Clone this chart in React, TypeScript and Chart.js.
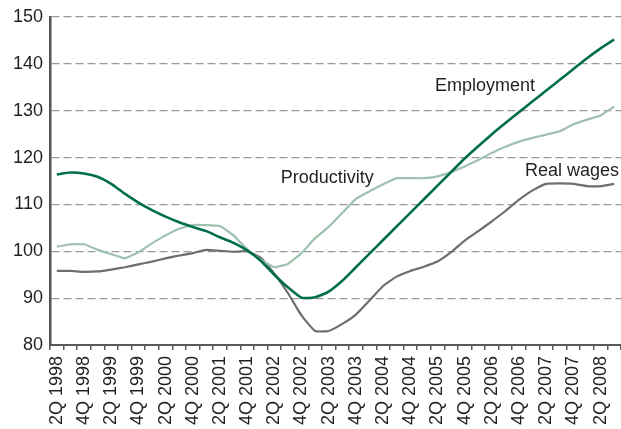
import React, { useEffect, useRef } from "react";
import { Chart, registerables } from "chart.js";

Chart.register(...registerables);

const quarters: string[] = [];
for (let y = 1998; y <= 2008; y++) {
  for (let q = 1; q <= 4; q++) {
    if (y === 1998 && q === 1) continue;
    if (y === 2008 && q === 4) continue;
    quarters.push(`${q}Q ${y}`);
  }
}

const employment = [
  116.4, 116.8, 116.6, 115.9, 114.4, 112.3, 110.4, 108.8, 107.4, 106.2,
  105.2, 104.3, 103.0, 101.8, 100.2, 98.0, 95.0, 92.3, 90.1, 90.2,
  91.4, 93.7, 96.6, 99.5, 102.4, 105.3, 108.2, 111.1, 114.0, 116.9,
  119.8, 122.4, 125.0, 127.4, 129.7, 132.0, 134.3, 136.6, 138.9, 141.2,
  143.3, 145.2,
];

const productivity = [
  101.0, 101.5, 101.5, 100.3, 99.4, 98.5, 99.8, 101.7, 103.4, 104.8,
  105.6, 105.6, 105.4, 103.4, 100.4, 98.2, 96.6, 97.3, 99.6, 102.8,
  105.2, 108.2, 111.2, 112.8, 114.3, 115.6, 115.6, 115.6, 116.0, 116.9,
  118.1, 119.5, 121.0, 122.3, 123.4, 124.2, 124.9, 125.6, 127.1, 128.1,
  129.0, 130.9,
];

const realWages = [
  95.8, 95.8, 95.6, 95.7, 96.1, 96.6, 97.2, 97.8, 98.5, 99.1,
  99.6, 100.3, 100.1, 99.9, 100.0, 98.6, 95.2, 91.1, 86.3, 83.0,
  83.0, 84.5, 86.5, 89.5, 92.6, 94.6, 95.8, 96.7, 97.8, 99.8,
  102.3, 104.3, 106.4, 108.6, 111.0, 113.0, 114.4, 114.5, 114.4, 113.9,
  113.9, 114.4,
];

const yTicks = [80, 90, 100, 110, 120, 130, 140, 150];

const annotationTexts = ["Employment", "Productivity", "Real wages"];
const annotationIndex = [31.5, 19.9, 37.9];
const annotationValue = [135.3, 115.6, 117.1];

const FONT = '"Liberation Sans", Arial, Helvetica, sans-serif';
const TEXT = "#231f20";

const annotationPlugin = {
  id: "seriesLabels",
  afterDatasetsDraw(chart: any) {
    const { ctx, scales } = chart;
    const xs = scales.x;
    const ys = scales.y;
    const x0 = xs.getPixelForValue(0);
    const x1 = xs.getPixelForValue(1);
    ctx.save();
    ctx.font = `18px ${FONT}`;
    ctx.fillStyle = TEXT;
    ctx.textAlign = "center";
    ctx.textBaseline = "middle";
    annotationTexts.forEach((t, i) => {
      const px = x0 + (x1 - x0) * annotationIndex[i];
      const py = ys.getPixelForValue(annotationValue[i]);
      ctx.fillText(t, px, py);
    });
    ctx.restore();
  },
};

export default function App() {
  const ref = useRef<HTMLCanvasElement | null>(null);

  useEffect(() => {
    document.body.style.margin = "0";
    const canvas = ref.current;
    if (!canvas) return;
    const chart = new Chart(canvas, {
      type: "line",
      data: {
        labels: quarters,
        datasets: [
          {
            label: "Employment",
            data: employment,
            borderColor: "#006e4e",
            borderWidth: 2.6,
            pointRadius: 0,
            tension: 0.2,
          },
          {
            label: "Productivity",
            data: productivity,
            borderColor: "#a0c1ad",
            borderWidth: 2.2,
            pointRadius: 0,
            tension: 0.1,
          },
          {
            label: "Real wages",
            data: realWages,
            borderColor: "#6e6e6e",
            borderWidth: 2.2,
            pointRadius: 0,
            tension: 0.15,
          },
        ],
      },
      options: {
        animation: false,
        responsive: false,
        devicePixelRatio: 1,
        layout: { padding: { top: 17, left: 0, right: 0, bottom: 0 } },
        plugins: {
          legend: { display: false },
          tooltip: { enabled: false },
        },
        scales: {
          x: {
            type: "category",
            offset: true,
            grid: {
              offset: true,
              drawOnChartArea: false,
              drawTicks: true,
              tickLength: 5,
              color: "#5a5a5a",
              lineWidth: 1.5,
            },
            border: { display: true, color: "#5a5a5a", width: 2 },
            ticks: {
              autoSkip: false,
              maxRotation: 90,
              minRotation: 90,
              padding: 6,
              color: TEXT,
              font: { family: FONT, size: 18 },
              callback: (_v: any, i: number) => (i % 2 === 0 ? quarters[i] : ""),
            },
            afterFit: (s: any) => {
              s.height = 84;
              s.paddingLeft = 0;
              s.paddingRight = 0;
            },
          },
          y: {
            min: 80,
            max: 150,
            afterBuildTicks: (s: any) => {
              s.ticks = yTicks.map((v) => ({ value: v }));
            },
            grid: {
              drawTicks: false,
              color: (c: any) => (c.tick && c.tick.value === 80 ? "rgba(0,0,0,0)" : "#9a9a9a"),
              lineWidth: 1.2,
            },
            border: { display: true, color: "#555555", width: 2.5, dash: [8, 4] },
            ticks: {
              padding: 7,
              color: TEXT,
              font: { family: FONT, size: 18 },
            },
            afterFit: (s: any) => {
              s.width = 50;
              s.paddingTop = 0;
              s.paddingBottom = 0;
            },
          },
        },
      },
      plugins: [annotationPlugin],
    });
    return () => chart.destroy();
  }, []);

  return (
    <div style={{ width: 621, height: 429 }}>
      <canvas ref={ref} width={621} height={429} style={{ width: 621, height: 429 }} />
    </div>
  );
}
